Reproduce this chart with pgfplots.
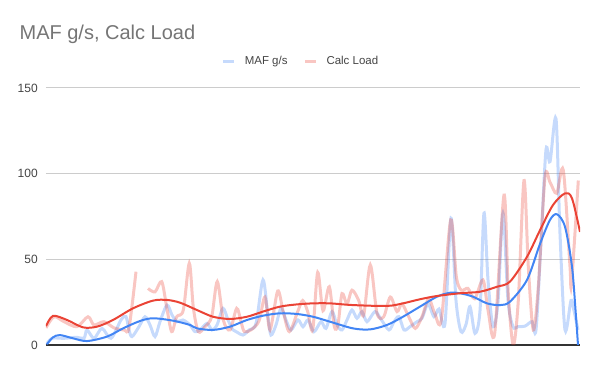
\documentclass[border=0pt]{standalone}
\usepackage{fontspec}
\setmainfont{Liberation Sans}
\usepackage{pgfplots}
\pgfplotsset{compat=1.18}
\definecolor{gblue}{HTML}{4285F4}
\definecolor{gred}{HTML}{EA4335}
\definecolor{titlegray}{HTML}{757575}
\definecolor{tickgray}{HTML}{444444}
\definecolor{gridgray}{HTML}{CCCCCC}
\definecolor{basegray}{HTML}{333333}
\begin{document}
\begin{tikzpicture}
\begin{axis}[
  scale only axis,
  width=400.5pt, height=192.75pt,
  xmin=46, xmax=580, ymin=0, ymax=150,
  xtick=\empty,
  ytick={0,50,100,150},
  ymajorgrids,
  grid style={draw=gridgray, line width=0.75pt},
  major tick length=0pt,
  axis lines*=left,
  x axis line style={draw=basegray, line width=1.1pt},
  y axis line style={draw=none},
  /pgf/number format/assume math mode=true,
  yticklabel style={font=\fontsize{9}{10}\selectfont, text=tickgray, inner sep=0pt, xshift=-6pt},
  unbounded coords=jump,
  legend columns=2,
  legend style={draw=none, fill=none, at={(rel axis cs:0.4757,1.105)}, anchor=center,
    font=\fontsize{8.6}{10}\selectfont, text=tickgray,
    /tikz/every odd column/.append style={column sep=7pt},
    /tikz/every even column/.append style={column sep=12pt},
    nodes={inner sep=0pt}},
  legend image code/.code={\draw[#1, line width=2.25pt] (0pt,0pt) -- (8pt,0pt);},
]
\addplot[draw=gblue, draw opacity=0.3, line width=2.25pt, smooth, tension=0.5] table {
x y
46 0
52 3.9
64 3.9
77 4.5
84 3.9
87 8.8
94 3.9
102 9.7
111 3.9
121 14.6
126 16.5
129 8.8
132 4.9
139 10.7
145 16.5
150 11.7
155 4.9
160 13.6
167 23.3
172 17.5
177 13.6
183 14.6
190 11.7
195 7.8
200 8.8
207 12.6
212 8.8
217 11.7
223 21.4
228 14.6
233 8.8
237 7.5
243 5.8
249 8.8
256 12.6
263 38
268 16.5
271 5.8
276 11.7
281 21.4
286 14.6
291 8.8
298 14.6
303 10.7
308 14.6
314 7.8
321 13.6
326 9.7
332 19.5
337 11.7
342 8.8
347 14.6
352 20.4
357 15.6
362 19.5
367 13.6
375 19.5
381 15
389 8.8
394 13.6
399 16.5
404 8.8
410 10.7
417 13.6
422 15.6
428 24
434 16.5
439 21
445 12.6
451 74
456 26
461 7.8
466 12
470 22.4
475 6.8
480 20
484 77
488 38
493 10.7
498 25
503 77
508 26
513 10.7
518 10.7
525 11
532 13.6
536 8.8
541 60
546 114
550 107
556 132
560 65
565 8.8
571 26
574 20
578 8.8
};
\addlegendentry{MAF g/s}
\addplot[draw=gred, draw opacity=0.3, line width=2.25pt, smooth, tension=0.5] table {
x y
46 10
54 16.5
64 13.6
77 10.7
88 16.5
94 11.7
104 13.6
114 10
124 8.8
129 10
136 42.8
142 nan
148 33
155 31
161.7 37
166.7 22
171.7 7.8
176.7 16.5
183.3 20.4
189.3 47.7
193.3 22
198.3 7.8
205 10.7
211.7 16.5
217.3 37
223.3 14.6
230 8.8
236.7 21.4
241 13.6
244.3 7.8
251 8.8
259 14
265 28
270 8.8
277.7 31.5
283 20
289.3 7.8
297.7 19.5
302.7 26
307.7 19.5
312.7 8.8
317.7 42.4
323 20
329.3 34
334.3 10.7
338 12
342 30
347 24
352 32
358.7 26
363.7 17.5
370.3 46.7
377 18.5
383.7 16.5
390.3 28
397 19.5
402 24
408.7 16.5
415.3 9.7
422 16.5
428.7 27
434.7 18.5
441.3 14.6
450.7 73
456.3 40
461.3 32
468 33
474.7 27
483 38
488 20.4
494.7 6.8
504 87.5
508.3 30
513.3 0
518.3 26
524 96
528.3 45.7
533.3 8.8
538.3 34
545 98
550 95
556.7 88.5
563.3 102
570 45.7
571.5 36
578.3 96
};
\addlegendentry{Calc Load}
\addplot[draw=gblue, line width=1.5pt, smooth, forget plot] table {
x y
47 0.5
53 4.5
60 5.8
73 3.9
87 2.3
107 4.9
123 9.7
140 14
153 15.6
173 14.2
190 11.7
197 9.7
213 8.8
230 10.7
247 14.6
263 17.1
280 18.5
297 18.1
313 16.5
330 13.6
353 9.7
370 9.1
387 11.7
403 16.5
420 22.4
437 28.2
450 30.5
460 30.2
473 28.2
487 24.3
500 23.3
510 25.3
527 38
540 59
550 73
557 76.3
565 69
572 45.7
576 16.5
578 0
};
\addplot[draw=gred, line width=1.5pt, smooth, forget plot] table {
x y
46 11
53 17
67 14.6
83 10.3
97 10.7
113 14.6
133 21.4
153 25.9
167 26.3
180 24.7
197 20.4
213 16.5
230 15.2
247 16.5
263 19.5
280 22.4
297 23.7
313 24.3
330 24.3
353 23.3
387 22.8
403 24.3
420 26.7
437 28.6
460 30.2
480 31.1
497 34
510 37
527 51.5
540 67
553 81.7
565 88.5
572 85.6
580 66
};
\end{axis}
\node[anchor=base west, inner sep=0pt, font=\fontsize{15}{18}\selectfont, text=titlegray] at (-20pt,229pt) {MAF g/s, Calc Load};
\pgfresetboundingbox
\path (-34.5pt,-19.5pt) rectangle (415.5pt,258.75pt);
\end{tikzpicture}
\end{document}
